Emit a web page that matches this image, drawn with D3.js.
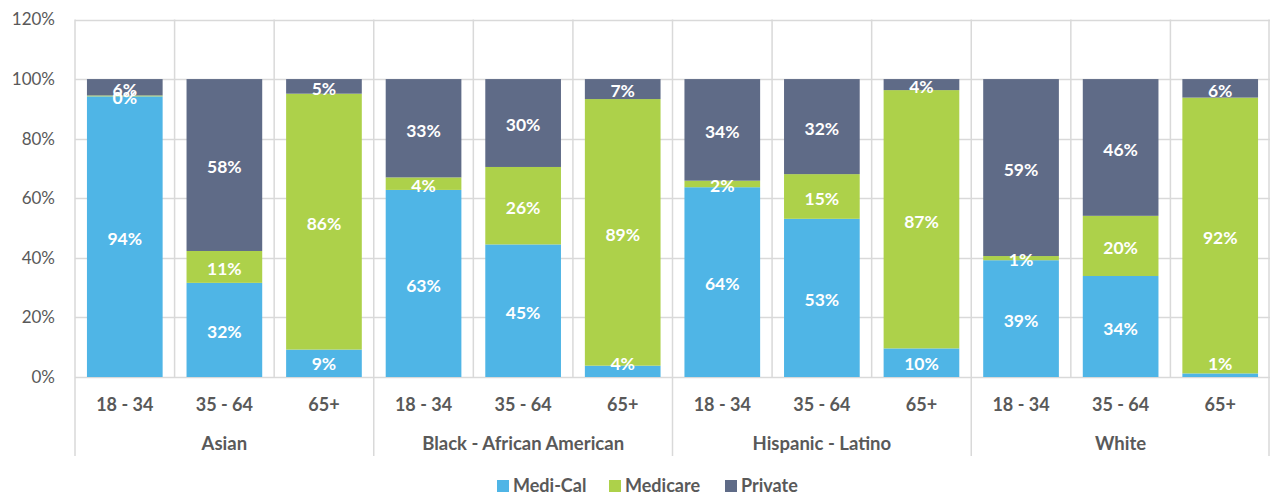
<!DOCTYPE html>
<html>
<head>
<meta charset="utf-8">
<script src="https://cdn.jsdelivr.net/npm/d3@7"></script>
<style>
  body { margin: 0; background: #fff; }
  svg { display: block; font-family: Lato, "Open Sans", sans-serif; }
</style>
</head>
<body>
<div id="chart"></div>
<script>
'use strict';

// groups and age bands, in drawing order
const groups = ['Asian', 'Black - African American', 'Hispanic - Latino', 'White'];
const ages = ['18 - 34', '35 - 64', '65+'];
const series = ['Medi-Cal', 'Medicare', 'Private'];
const colors = ['#4fb5e6', '#add14a', '#5f6b87'];

// one value per bar, order = groups x ages
const mediCal  = [94.2, 31.6, 9.2, 62.8, 44.5, 3.8, 63.7, 53.1, 9.6, 39.2, 33.9, 1.2];
const medicare = [0.3, 10.7, 85.9, 4.2, 26.0, 89.4, 2.2, 15.0, 86.7, 1.4, 20.2, 92.4];
const privat   = [5.5, 57.7, 4.9, 33.0, 29.5, 6.7, 34.1, 31.9, 3.7, 59.4, 45.9, 6.2];

const yTicks = [0, 20, 40, 60, 80, 100, 120];

const width = 1270, height = 495;
const margin = {top: 19.5, right: 0, bottom: 118, left: 75};

const rows = [];
groups.forEach((g, gi) => {
  ages.forEach((a, ai) => {
    const i = gi * ages.length + ai;
    rows.push({key: i, group: g, age: a,
      'Medi-Cal': mediCal[i], 'Medicare': medicare[i], 'Private': privat[i]});
  });
});

const svg = d3.select('#chart').append('svg')
  .attr('width', width)
  .attr('height', height);

const x = d3.scaleBand()
  .domain(rows.map(d => d.key))
  .range([margin.left, width - margin.right])
  .paddingInner(0.24)
  .paddingOuter(0.12);

const y = d3.scaleLinear()
  .domain([0, 120])
  .range([height - margin.bottom, margin.top]);

const step = x.step();
const bandLeft = k => x(k) - step * x.paddingInner() / 2;

// horizontal grid
svg.append('g')
  .selectAll('line')
  .data(yTicks)
  .join('line')
  .attr('x1', margin.left)
  .attr('x2', width - margin.right)
  .attr('y1', d => Math.round(y(d)) + 0.5)
  .attr('y2', d => Math.round(y(d)) + 0.5)
  .attr('stroke', '#d9d9d9')
  .attr('stroke-width', 1.5);

// vertical grid between bars, longer at group edges
const bounds = rows.map(d => bandLeft(d.key)).concat([width - 1]);
svg.append('g')
  .selectAll('line')
  .data(bounds)
  .join('line')
  .attr('x1', d => d)
  .attr('x2', d => d)
  .attr('y1', y(120))
  .attr('y2', (d, i) => (i % 3 === 0 || i === bounds.length - 1) ? 456 : y(0))
  .attr('stroke', '#d9d9d9')
  .attr('stroke-width', 1.5);

// y tick labels
svg.append('g')
  .selectAll('text')
  .data(yTicks)
  .join('text')
  .attr('x', 55)
  .attr('y', d => y(d))
  .attr('dy', '0.35em')
  .attr('text-anchor', 'end')
  .attr('fill', '#595959')
  .style('font-size', '17px')
  .text(d => d + '%');

// stacked bars
const stacked = d3.stack().keys(series)
  .offset(d3.stackOffsetExpand)(rows);

const layers = svg.append('g')
  .selectAll('g')
  .data(stacked)
  .join('g')
  .attr('fill', (d, i) => colors[i]);

layers.selectAll('rect')
  .data(d => d)
  .join('rect')
  .attr('x', d => x(d.data.key))
  .attr('width', x.bandwidth())
  .attr('y', d => y(d[1] * 100))
  .attr('height', d => y(d[0] * 100) - y(d[1] * 100));

// value labels, kept inside the plot like Excel does
const fmt = v => Math.round(v) + '%';
const labelY = d => Math.min(y((d[0] + d[1]) / 2 * 100) + 2, y(0) - 13);
stacked.forEach(layer => {
  svg.append('g')
    .selectAll('text')
    .data(layer)
    .join('text')
    .attr('x', d => x(d.data.key) + x.bandwidth() / 2)
    .attr('y', labelY)
    .attr('dy', '0.36em')
    .attr('text-anchor', 'middle')
    .attr('fill', '#fff')
    .style('font-size', '17.5px')
    .style('font-weight', 'bold')
    .text(d => fmt(d.data[layer.key]));
});

// age labels
svg.append('g')
  .selectAll('text')
  .data(rows)
  .join('text')
  .attr('x', d => x(d.key) + x.bandwidth() / 2)
  .attr('y', 405)
  .attr('dy', '0.35em')
  .attr('text-anchor', 'middle')
  .attr('fill', '#595959')
  .style('font-size', '18px')
  .style('font-weight', 'bold')
  .text(d => d.age);

// group labels
svg.append('g')
  .selectAll('text')
  .data(groups)
  .join('text')
  .attr('x', (d, i) => x(i * 3 + 1) + x.bandwidth() / 2)
  .attr('y', 444)
  .attr('dy', '0.35em')
  .attr('text-anchor', 'middle')
  .attr('fill', '#595959')
  .style('font-size', '18.5px')
  .style('font-weight', 'bold')
  .text(d => d);

// legend
const legendX = [497, 609, 725];
const legend = svg.append('g')
  .selectAll('g')
  .data(series)
  .join('g')
  .attr('transform', (d, i) => 'translate(' + legendX[i] + ',486)');

legend.append('rect')
  .attr('x', 0)
  .attr('y', -6)
  .attr('width', 12)
  .attr('height', 12)
  .attr('fill', (d, i) => colors[i]);

legend.append('text')
  .attr('x', 16)
  .attr('dy', '0.35em')
  .attr('fill', '#595959')
  .style('font-size', '18px')
  .style('font-weight', 'bold')
  .text(d => d);
</script>
</body>
</html>
